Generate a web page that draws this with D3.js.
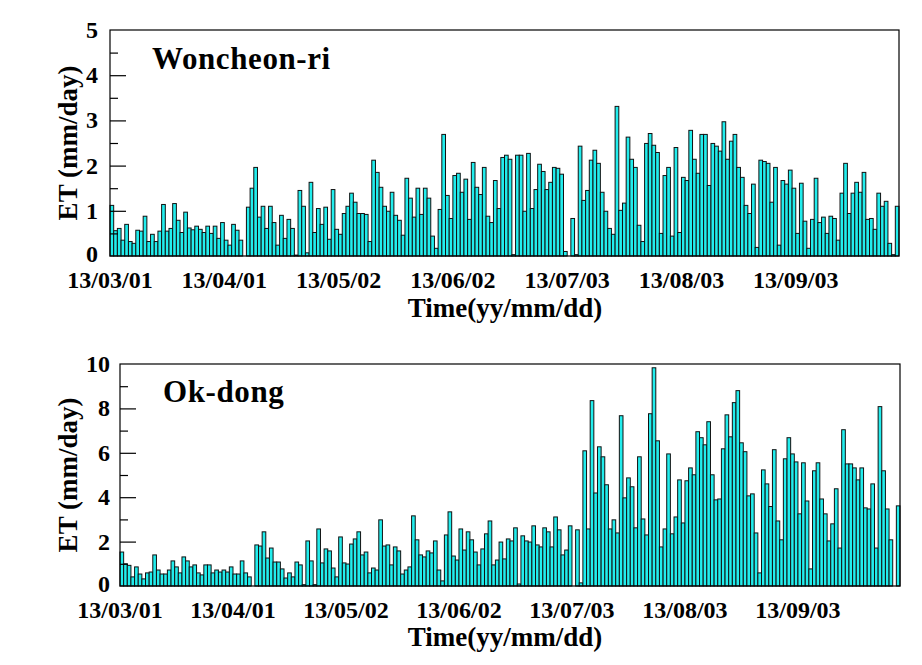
<!DOCTYPE html>
<html>
<head>
<meta charset="utf-8">
<script src="https://cdn.jsdelivr.net/npm/d3@7"></script>
<style>
  html, body { margin: 0; padding: 0; background: #fff; }
  svg { display: block; }
  text { font-family: "Liberation Serif", "Times New Roman", serif; font-weight: bold; fill: #000; }
</style>
</head>
<body>
<svg id="chart" width="922" height="665"></svg>
<script>
// ---- DATA ----
const tickDayIndex = [0, 31, 62, 93, 124, 155, 186];
const tickLabels = ["13/03/01", "13/04/01", "13/05/02", "13/06/02", "13/07/03", "13/08/03", "13/09/03"];

// Daily ET (mm/day), 2013-03-01 .. 2013-09-30
const woncheonET = [
  1.12, 0.56, 0.61, 0.35, 0.70, 0.32, 0.28, 0.57, 0.55, 0.88,
  0.32, 0.48, 0.32, 0.55, 1.14, 0.55, 0.61, 1.16, 0.79, 0.52,
  0.97, 0.62, 0.58, 0.66, 0.59, 0.52, 0.66, 0.50, 0.66, 0.39,
  0.74, 0.35, 0.24, 0.70, 0.57, 0.35, 0.00, 1.08, 1.50, 1.96,
  0.86, 1.10, 0.61, 1.10, 0.74, 0.24, 0.90, 0.39, 0.81, 0.61,
  0.02, 1.45, 1.10, 0.07, 1.63, 0.52, 1.05, 0.70, 1.08, 0.37,
  1.47, 0.59, 0.48, 0.94, 1.10, 1.39, 1.19, 0.94, 0.94, 0.92,
  0.32, 2.12, 1.85, 1.52, 1.10, 0.99, 1.41, 0.90, 0.79, 0.46,
  1.72, 1.28, 0.86, 1.50, 0.92, 1.50, 1.28, 0.44, 0.17, 1.03,
  2.69, 1.34, 0.83, 1.78, 1.83, 1.41, 1.70, 0.81, 2.07, 1.52,
  1.36, 1.96, 0.88, 0.74, 1.67, 1.05, 2.18, 2.23, 2.14, 0.03,
  2.23, 2.23, 0.99, 2.27, 1.05, 1.47, 2.03, 1.87, 1.47, 1.63,
  1.96, 1.94, 1.81, 0.10, 0.00, 0.83, 0.03, 2.43, 1.23, 1.45,
  2.12, 2.34, 2.05, 1.41, 0.99, 0.61, 0.48, 3.31, 1.01, 1.17,
  2.63, 2.14, 1.96, 0.68, 0.32, 2.49, 2.71, 2.45, 2.29, 0.50,
  1.78, 1.96, 0.44, 2.40, 0.52, 1.74, 1.67, 2.78, 2.14, 1.83,
  2.69, 2.69, 1.56, 2.49, 2.43, 2.32, 2.97, 2.14, 2.54, 2.69,
  1.96, 1.74, 1.12, 0.94, 1.59, 0.19, 2.12, 2.09, 2.05, 1.19,
  1.96, 0.24, 1.67, 1.59, 1.90, 1.50, 0.50, 1.61, 0.77, 0.17,
  0.81, 1.72, 0.74, 0.86, 0.50, 0.88, 0.83, 0.35, 1.39, 2.05,
  0.94, 1.39, 1.63, 1.41, 1.85, 0.81, 0.83, 0.59, 1.39, 1.10,
  1.21, 0.28, 0.03, 1.10
];

const okdongET = [
  1.53, 1.00, 0.93, 0.41, 0.86, 0.54, 0.32, 0.59, 0.63, 1.40,
  0.72, 0.54, 0.54, 0.72, 1.13, 0.86, 0.59, 1.31, 1.13, 0.86,
  0.95, 0.59, 0.50, 0.95, 0.95, 0.59, 0.72, 0.63, 0.72, 0.63,
  0.86, 0.54, 0.54, 1.13, 0.59, 0.41, 0.00, 1.85, 1.80, 2.44,
  1.26, 1.71, 1.08, 1.08, 0.77, 0.36, 0.59, 0.41, 1.08, 0.95,
  0.06, 2.03, 1.13, 0.06, 2.57, 1.04, 1.67, 1.58, 0.81, 0.41,
  2.21, 1.04, 0.99, 1.89, 2.12, 2.44, 1.40, 1.53, 0.59, 0.81,
  0.72, 2.98, 1.80, 1.85, 0.95, 1.76, 1.58, 0.54, 0.72, 0.86,
  3.16, 2.08, 1.40, 1.31, 1.58, 1.49, 2.03, 0.72, 0.23, 2.30,
  3.34, 1.35, 1.17, 2.57, 1.62, 2.44, 2.08, 1.53, 0.95, 1.67,
  2.35, 2.93, 0.95, 1.17, 1.98, 1.22, 2.12, 2.03, 2.62, 0.09,
  2.26, 2.03, 1.98, 2.71, 1.85, 1.76, 2.62, 2.44, 1.76, 3.11,
  2.53, 1.40, 1.62, 2.71, 0.00, 2.53, 0.14, 6.09, 2.57, 8.35,
  4.19, 6.27, 5.82, 4.56, 2.57, 2.98, 2.39, 7.67, 3.97, 4.87,
  4.47, 2.62, 5.82, 3.02, 2.30, 7.76, 9.83, 6.54, 1.76, 2.57,
  5.95, 2.35, 3.11, 4.78, 2.84, 4.74, 5.32, 5.01, 6.95, 6.68,
  6.36, 7.40, 5.01, 3.88, 3.92, 6.18, 7.71, 6.72, 8.26, 8.80,
  6.45, 6.05, 4.06, 4.15, 2.39, 0.59, 5.23, 4.60, 3.58, 6.14,
  2.93, 2.08, 5.73, 6.68, 5.95, 5.59, 3.25, 5.55, 3.83, 0.77,
  5.19, 5.55, 3.92, 3.25, 2.03, 2.80, 4.38, 1.71, 7.04, 5.50,
  5.50, 5.32, 4.78, 5.32, 3.52, 3.47, 4.60, 1.71, 8.08, 5.19,
  3.47, 2.08, 0.00, 3.61
];

const woncheonYTicks = [0, 1, 2, 3, 4, 5];
const woncheonYMinor = [0.5, 1.5, 2.5, 3.5, 4.5];
const okdongYTicks = [0, 2, 4, 6, 8, 10];
const okdongYMinor = [1, 3, 5, 7, 9];

// ---- LAYOUT ----
const svg = d3.select("#chart");

const panels = [
  { name: "Woncheon-ri", values: woncheonET, yMax: 5, yTicks: woncheonYTicks, yMinor: woncheonYMinor,
    left: 110, right: 899, top: 30, bottom: 256, labelRight: 98,
    titleX: 152, titleY: 69, xLabelY: 288, xTitleY: 317 },
  { name: "Ok-dong", values: okdongET, yMax: 10, yTicks: okdongYTicks, yMinor: okdongYMinor,
    left: 120, right: 900, top: 364, bottom: 586, labelRight: 110,
    titleX: 163, titleY: 402, xLabelY: 618, xTitleY: 646 }
];

panels.forEach(p => {
  const g = svg.append("g");
  const x = d3.scaleBand()
    .domain(d3.range(p.values.length))
    .range([p.left, p.right])
    .paddingInner(0).paddingOuter(0);
  const y = d3.scaleLinear().domain([0, p.yMax]).range([p.bottom, p.top]);

  // bars
  g.append("g").selectAll("rect")
    .data(p.values)
    .join("rect")
    .attr("x", (d, i) => x(i))
    .attr("width", x.bandwidth())
    .attr("y", d => y(d))
    .attr("height", d => Math.max(0, y(0) - y(d)))
    .attr("fill", "#22eded")
    .attr("stroke", "#111")
    .attr("stroke-width", 1);

  // y axis major ticks (inward) and labels
  const yAxis = d3.axisRight(y).tickValues(p.yTicks.filter(v => v > 0 && v < p.yMax))
    .tickSize(16).tickFormat("");
  g.append("g").attr("transform", `translate(${p.left},0)`).call(yAxis)
    .call(s => s.select(".domain").remove())
    .call(s => s.selectAll("line").attr("stroke", "#000").attr("stroke-width", 1.2));
  const yMinorAxis = d3.axisRight(y).tickValues(p.yMinor).tickSize(8).tickFormat("");
  g.append("g").attr("transform", `translate(${p.left},0)`).call(yMinorAxis)
    .call(s => s.select(".domain").remove())
    .call(s => s.selectAll("line").attr("stroke", "#000").attr("stroke-width", 1.2));

  g.append("g").selectAll("text.ylab")
    .data(p.yTicks)
    .join("text")
    .attr("x", p.labelRight)
    .attr("y", d => y(d) + (d === 0 ? 6 : 8))
    .attr("text-anchor", "end")
    .style("font-size", "24px")
    .text(d => d);

  // x tick labels
  g.append("g").selectAll("text.xlab")
    .data(tickDayIndex)
    .join("text")
    .attr("x", d => x(d))
    .attr("y", p.xLabelY)
    .attr("text-anchor", "middle")
    .style("font-size", "24px")
    .text((d, i) => tickLabels[i]);

  // frame
  g.append("rect")
    .attr("x", p.left).attr("y", p.top)
    .attr("width", p.right - p.left).attr("height", p.bottom - p.top)
    .attr("fill", "none").attr("stroke", "#000").attr("stroke-width", 1.2);

  // panel title
  g.append("text")
    .attr("x", p.titleX).attr("y", p.titleY)
    .style("font-size", "31px")
    .style("letter-spacing", "0.6px")
    .text(p.name);

  // axis titles
  g.append("text")
    .attr("transform", `translate(77,${(p.top + p.bottom) / 2}) rotate(-90)`)
    .attr("text-anchor", "middle")
    .style("font-size", "27px")
    .text("ET (mm/day)");

  g.append("text")
    .attr("x", 505).attr("y", p.xTitleY)
    .attr("text-anchor", "middle")
    .style("font-size", "27px")
    .text("Time(yy/mm/dd)");
});
</script>
</body>
</html>
